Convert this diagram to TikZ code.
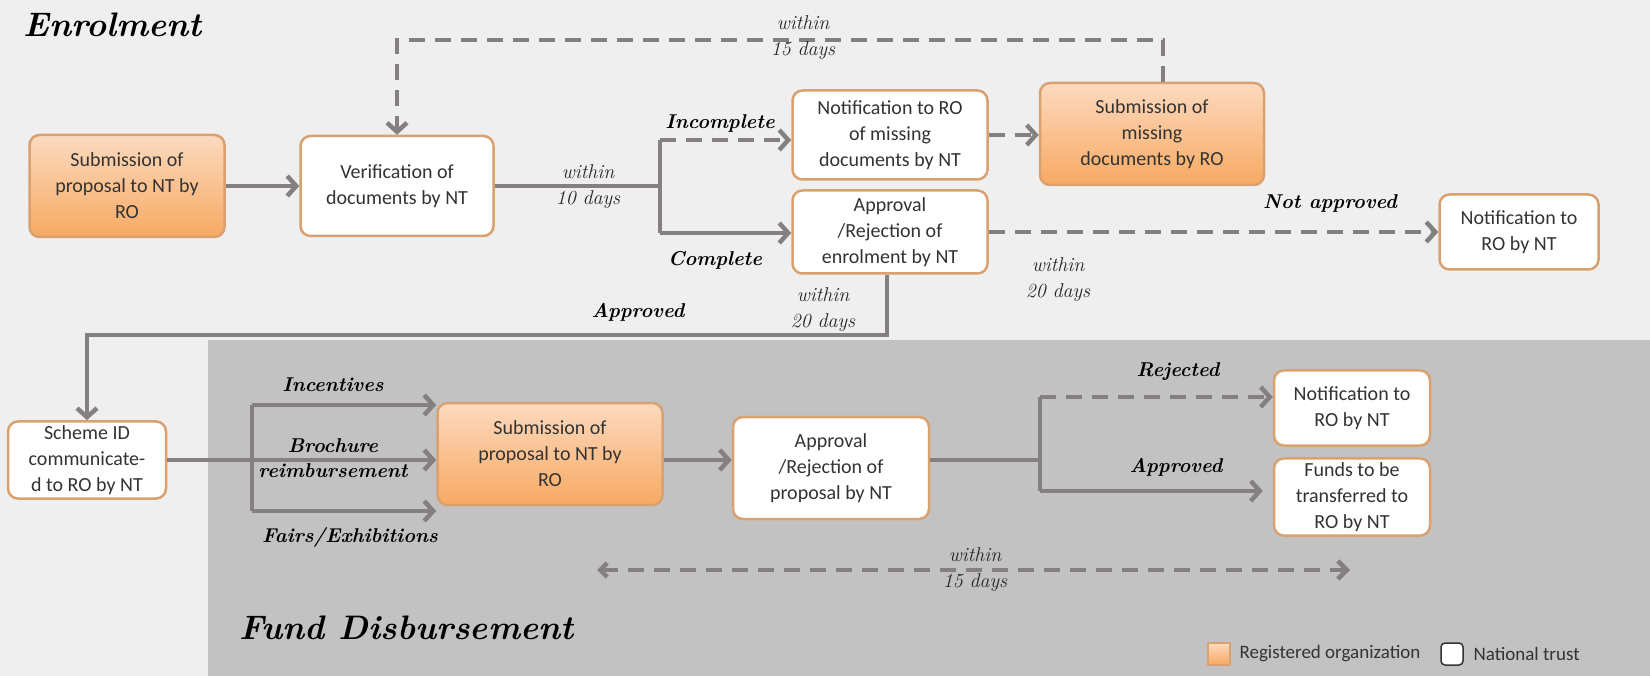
\documentclass[tikz,border=0pt]{standalone}
\usepackage{fontspec}
\newfontfamily\calfont{Carlito}
\usetikzlibrary{arrows.meta,calc}
\definecolor{bglight}{HTML}{EFEFEF}
\definecolor{bgdark}{HTML}{C2C2C2}
\definecolor{linegray}{HTML}{858080}
\definecolor{boxborder}{HTML}{D9A070}
\definecolor{orangetop}{HTML}{FCDABF}
\definecolor{orangebot}{HTML}{F7A962}
\definecolor{txt}{HTML}{333333}
\tikzset{
  box/.style={draw=boxborder, line width=2.5pt, rounded corners=10pt, align=center,
    text=txt, font=\calfont\fontsize{20}{26}\selectfont, inner sep=4pt},
  ntbox/.style={box, fill=white},
  robox/.style={box, top color=orangetop, bottom color=orangebot},
  plainline/.style={draw=linegray, line width=4.5pt},
  conn/.style={plainline, -{Straight Barb[length=9pt,width=20pt]}},
  dconn/.style={conn, dash pattern=on 16pt off 10pt},
  dline/.style={plainline, dash pattern=on 16pt off 10pt},
  lbl/.style={align=center, text=black!85, font=\itshape\fontsize{20}{26}\selectfont},
  blbl/.style={align=center, text=black, font=\bfseries\itshape\fontsize{20}{25}\selectfont},
  ttl/.style={anchor=west, text=black, font=\bfseries\itshape\fontsize{34}{40}\selectfont},
  leg/.style={anchor=west, text=txt, font=\calfont\fontsize{19}{22}\selectfont}
}
\begin{document}
\begin{tikzpicture}[x=1pt,y=-1pt]
\useasboundingbox (0,0) rectangle (1650,676);
\fill[bglight] (0,0) rectangle (1650,676);
\fill[bgdark] (208,340) rectangle (1650,676);

% titles
\node[ttl] (t1) at (20,25) {Enrolment};
\node[ttl] (t2) at (236,628) {Fund Disbursement};

% nodes
\node[robox, minimum width=195pt, minimum height=102pt] (s1) at (127,186) {Submission of\\proposal to NT by\\RO};
\node[ntbox, minimum width=193pt, minimum height=100pt] (ver) at (397,186) {Verification of\\documents by NT};
\node[ntbox, minimum width=195pt, minimum height=89pt] (nmiss) at (890,135) {Notification to RO\\of missing\\documents by NT};
\node[ntbox, minimum width=195pt, minimum height=83pt] (appe) at (890,232) {Approval\\/Rejection of\\enrolment by NT};
\node[robox, minimum width=224pt, minimum height=102pt] (smiss) at (1152,134) {Submission of\\missing\\documents by RO};
\node[ntbox, minimum width=159pt, minimum height=75pt] (notif1) at (1519,232) {Notification to\\RO by NT};
\node[ntbox, minimum width=158pt, minimum height=76pt] (scheme) at (87,460) {Scheme ID\\communicate-\\d to RO by NT};
\node[robox, minimum width=225pt, minimum height=102pt] (s2) at (550,454) {Submission of\\proposal to NT by\\RO};
\node[ntbox, minimum width=196pt, minimum height=102pt] (appp) at (831,468) {Approval\\/Rejection of\\proposal by NT};
\node[ntbox, minimum width=156pt, minimum height=75pt] (notif2) at (1352,408) {Notification to\\RO by NT};
\node[ntbox, minimum width=156pt, minimum height=77pt] (funds) at (1352,497) {Funds to be\\transferred to\\RO by NT};

% enrolment connectors
\draw[conn] (s1) -- (ver);
\coordinate (b1) at (660,186);
\coordinate (b1t) at (660,140);
\coordinate (b1b) at (660,233);
\draw[plainline] (ver.east) -- (b1);
\draw[plainline] (b1t) -- (b1b);
\draw[dconn] (b1t) -- (nmiss.west |- b1t);
\draw[conn] (b1b) -- (appe.west |- b1b);
\draw[dconn] (nmiss.east) -- (smiss.west |- nmiss.east);
\coordinate (lt) at (1163,40);
\draw[dconn] (smiss.north -| lt) -- (lt) -| (ver.north);
\draw[dconn] (appe.east) -- (notif1.west);
\coordinate (ap) at (887,335);
\draw[conn] (appe.south -| ap) -- (ap) -| (scheme.north);

\node[lbl] (l10) at (588,187) {within\\10 days};
\node[blbl] (linc) at (720,123) {Incomplete};
\node[blbl] (lcom) at (715,260) {Complete};
\node[lbl] (l15a) at (803,38) {within\\15 days};
\node[blbl] (lna) at (1330,203) {Not approved};
\node[lbl] (l20a) at (1058,280) {within\\20 days};
\node[blbl] (lapp1) at (638,312) {Approved};
\node[lbl] (l20b) at (823,310) {within\\20 days};

% fund disbursement connectors
\draw[conn] (scheme.east) -- (s2.west |- scheme.east);
\coordinate (bk1) at (252,405);
\coordinate (bk2) at (252,511);
\draw[plainline] (bk1) -- (bk2);
\draw[conn] (bk1) -- (s2.west |- bk1);
\draw[conn] (bk2) -- (s2.west |- bk2);
\node[blbl] (linc2) at (333,385) {Incentives};
\node[blbl] (lbro) at (333,458) {Brochure\\reimbursement};
\node[blbl] (lfair) at (350,537) {Fairs/Exhibitions};

\coordinate (c) at (0,460);
\draw[conn] (s2.east |- c) -- (appp.west |- c);
\coordinate (b2) at (1040,460);
\coordinate (b2t) at (1040,397);
\coordinate (b2b) at (1040,491);
\draw[plainline] (appp.east |- c) -- (b2);
\draw[plainline] (b2t) -- (b2b);
\draw[dconn] (b2t) -- (notif2.west |- b2t);
\draw[conn, shorten >=10pt] (b2b) -- (funds.west |- b2b);
\node[blbl] (lrej) at (1178,372) {Rejected};
\node[blbl] (lapp2) at (1176,467) {Approved};

\coordinate (dl) at (597,570);
\coordinate (dr) at (1350,570);
\draw[dline, {Straight Barb[length=7pt,width=14pt]}-{Straight Barb[length=9pt,width=18pt]}] (dl) -- (dr);
\node[lbl] (l15b) at (975,570) {within\\15 days};

% legend
\node[draw=boxborder, line width=1.5pt, top color=orangetop, bottom color=orangebot, minimum size=22pt, inner sep=0pt] (lg1) at (1219,654) {};
\node[leg] (lg1t) at (1236,654) {Registered organization};
\node[draw=txt, line width=1.5pt, fill=white, rounded corners=4pt, minimum size=22pt, inner sep=0pt] (lg2) at (1452,654) {};
\node[leg] (lg2t) at (1470,654) {National trust};
\end{tikzpicture}
\end{document}
